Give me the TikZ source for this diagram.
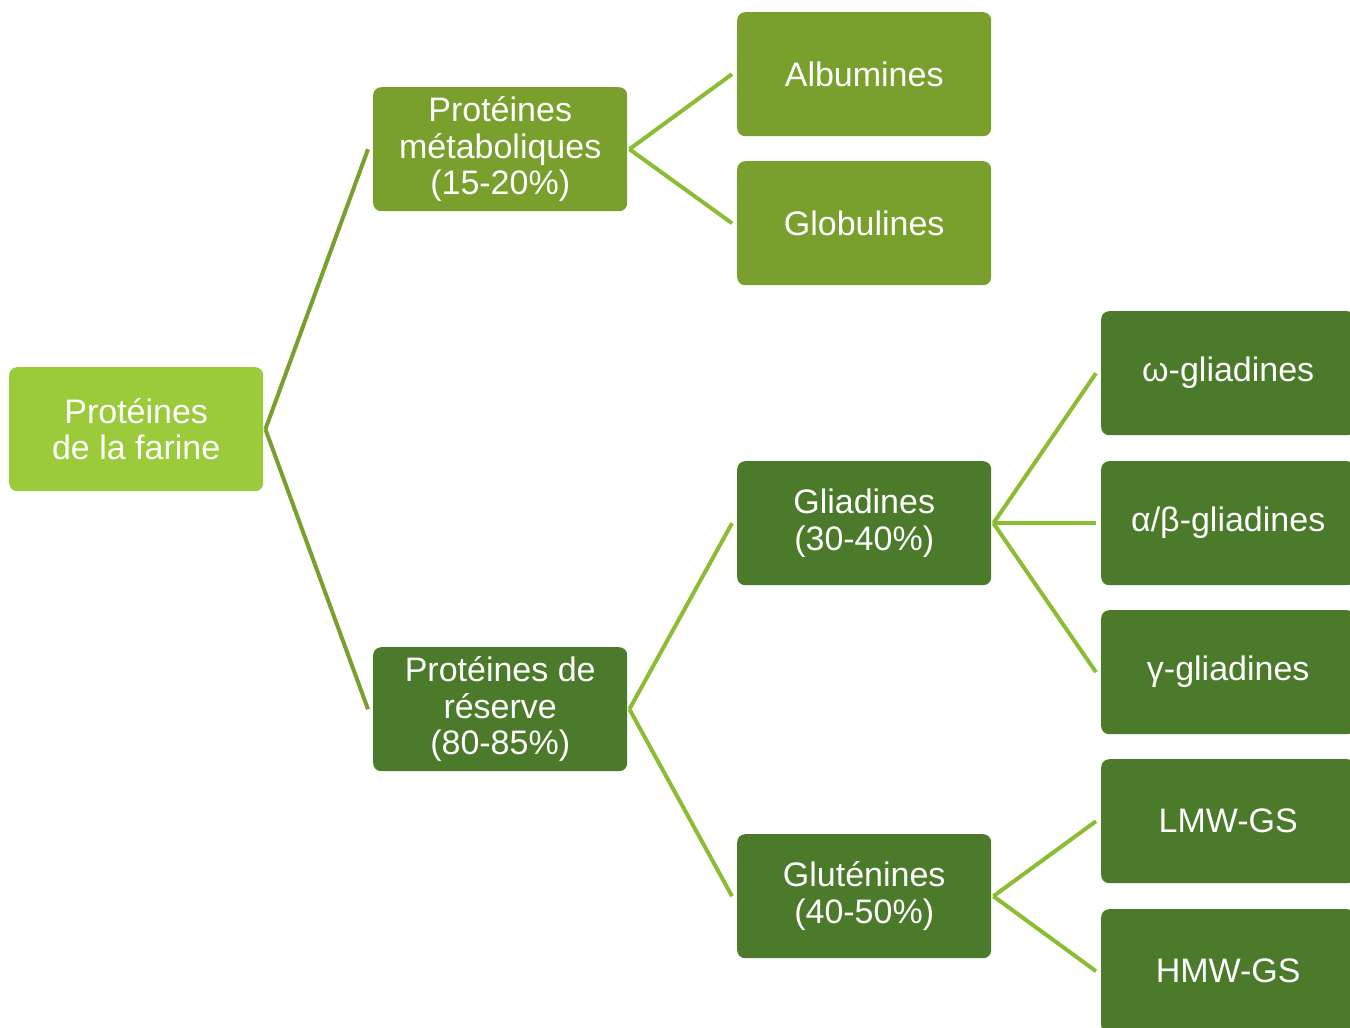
\documentclass[tikz,border=0pt]{standalone}
\usepackage{fontspec}
\setmainfont{Liberation Sans}
\usetikzlibrary{calc}
\definecolor{rootgreen}{HTML}{9BCB3B}
\definecolor{olivegreen}{HTML}{799F2C}
\definecolor{darkgreen}{HTML}{4A7A2A}
\definecolor{linelight}{HTML}{8BBD33}
\tikzset{
  box/.style={rounded corners=8pt, minimum width=254pt, minimum height=124pt, inner sep=0pt,
    text=white, align=center, font=\fontsize{34pt}{36.5pt}\selectfont, anchor=north west},
  rootbox/.style={box, fill=rootgreen},
  olivebox/.style={box, fill=olivegreen},
  darkbox/.style={box, fill=darkgreen},
  linkA/.style={draw=olivegreen, line width=4pt},
  linkB/.style={draw=linelight, line width=4pt},
}
\begin{document}
\begin{tikzpicture}[x=1pt,y=-1pt]
\useasboundingbox (0,0) rectangle (1350,1028);
\clip (0,0) rectangle (1350,1028);
\node[rootbox] (root) at (9,367) {Protéines\\de la farine};
\node[olivebox] (pm) at (373,87) {Protéines\\métaboliques\\(15-20\%)};
\node[olivebox] (alb) at (737,12) {Albumines};
\node[olivebox] (glob) at (737,161) {Globulines};
\node[darkbox] (pr) at (373,647) {Protéines de\\réserve\\(80-85\%)};
\node[darkbox] (glia) at (737,461) {Gliadines\\(30-40\%)};
\node[darkbox] (glut) at (737,834) {Gluténines\\(40-50\%)};
\node[darkbox] (om) at (1101,311) {ω-gliadines};
\node[darkbox] (ab) at (1101,461) {α/β-gliadines};
\node[darkbox] (ga) at (1101,610) {γ-gliadines};
\node[darkbox] (lmw) at (1101,759) {LMW-GS};
\node[darkbox] (hmw) at (1101,909) {HMW-GS};
\draw[linkA] ($(root.east)+(2,0)$) -- ($(pm.west)+(-5,0)$);
\draw[linkA] ($(root.east)+(2,0)$) -- ($(pr.west)+(-5,0)$);
\draw[linkB] ($(pm.east)+(2,0)$) -- ($(alb.west)+(-5,0)$);
\draw[linkB] ($(pm.east)+(2,0)$) -- ($(glob.west)+(-5,0)$);
\draw[linkB] ($(pr.east)+(2,0)$) -- ($(glia.west)+(-5,0)$);
\draw[linkB] ($(pr.east)+(2,0)$) -- ($(glut.west)+(-5,0)$);
\draw[linkB] ($(glia.east)+(2,0)$) -- ($(om.west)+(-5,0)$);
\draw[linkB] ($(glia.east)+(2,0)$) -- ($(ab.west)+(-5,0)$);
\draw[linkB] ($(glia.east)+(2,0)$) -- ($(ga.west)+(-5,0)$);
\draw[linkB] ($(glut.east)+(2,0)$) -- ($(lmw.west)+(-5,0)$);
\draw[linkB] ($(glut.east)+(2,0)$) -- ($(hmw.west)+(-5,0)$);
\end{tikzpicture}
\end{document}
